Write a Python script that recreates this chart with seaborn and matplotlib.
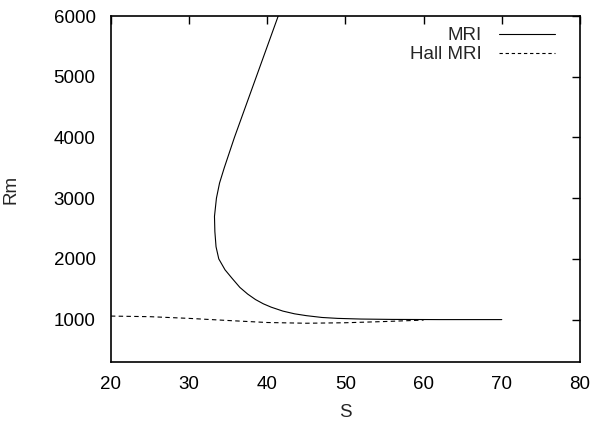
import matplotlib
matplotlib.use("Agg")
import matplotlib.pyplot as plt
import seaborn as sns
import pandas as pd

# MRI stability boundary (ordered along the curve)
mri_S = [70, 62, 56, 52, 49, 47, 45, 43.5, 42, 40.5, 39.5, 38.5, 37.5, 36.5, 35.5, 34.6, 33.8,
         33.45, 33.3, 33.25, 33.5, 33.9, 34.5, 35.8, 37.2, 38.6, 40.0, 41.4]
mri_Rm = [1000, 1000, 1003, 1009, 1020, 1035, 1065, 1095, 1140, 1205, 1260, 1330, 1420, 1530, 1680, 1820, 2000,
          2200, 2450, 2700, 3000, 3250, 3500, 4000, 4500, 5000, 5500, 6000]

# Hall MRI boundary
hall_S = [20, 25, 30, 35, 40, 45, 50, 55, 60]
hall_Rm = [1058, 1048, 1020, 985, 952, 940, 948, 968, 992]

xticks = [20, 30, 40, 50, 60, 70, 80]
yticks = [1000, 2000, 3000, 4000, 5000, 6000]

sns.set_theme(style="white")
plt.rcParams["font.family"] = ["Liberation Sans", "DejaVu Sans"]

FS = 13.5
fig = plt.figure(figsize=(5.93, 4.23), dpi=100)
ax = fig.add_axes([0.187, 0.144, 0.791, 0.818])

mri = pd.DataFrame({"S": mri_S, "Rm": mri_Rm})
hall = pd.DataFrame({"S": hall_S, "Rm": hall_Rm})

sns.lineplot(data=mri, x="S", y="Rm", sort=False, estimator=None, ax=ax,
             color="black", linewidth=0.8, label="MRI")
sns.lineplot(data=hall, x="S", y="Rm", sort=False, estimator=None, ax=ax,
             color="black", linewidth=0.8, dashes=False, label="Hall MRI")
ax.lines[1].set_dashes([4, 3])

ax.set_xlim(20, 80)
ax.set_ylim(300, 6000)
ax.set_xticks(xticks)
ax.set_yticks(yticks)
ax.tick_params(direction="in", length=6, width=1, top=True, right=True,
               labelsize=FS, colors="black")
ax.tick_params(axis="y", pad=11)
ax.tick_params(axis="x", pad=10)
for s in ax.spines.values():
    s.set_visible(True)
    s.set_color("black")
    s.set_linewidth(1.2)

ax.set_xlabel("S", fontsize=FS, labelpad=8)
ax.set_ylabel("Rm", fontsize=FS)
ax.yaxis.set_label_coords(-0.195, 0.5)

leg = ax.legend(loc="upper right", frameon=False, markerfirst=False, fontsize=FS,
                handlelength=3.0, handletextpad=0.9, labelspacing=0.1,
                borderaxespad=0, bbox_to_anchor=(0.963, 0.99))
for t in leg.get_texts():
    t.set_ha("right")
leg.get_lines()[1].set_dashes([3, 2.5])

fig.savefig("out.png", dpi=100)
